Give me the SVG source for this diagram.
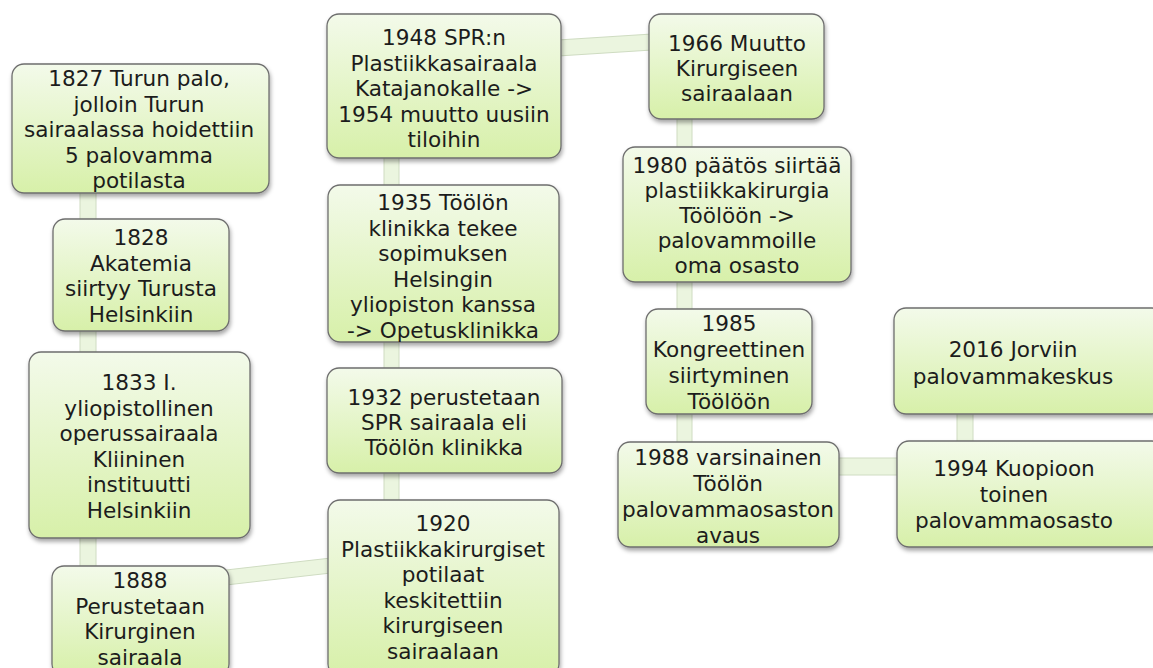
<svg xmlns="http://www.w3.org/2000/svg" width="1153" height="668" viewBox="0 0 1153 668">
<defs>
<linearGradient id="g" x1="0" y1="0" x2="0" y2="1">
<stop offset="0" stop-color="#f3faea"/>
<stop offset="1" stop-color="#d7f0a9"/>
</linearGradient>
<filter id="sh" x="-10%" y="-10%" width="120%" height="130%">
<feDropShadow dx="1" dy="3" stdDeviation="2" flood-color="#000" flood-opacity="0.35"/>
</filter>
<style>
.box{fill:url(#g);stroke:#6e6e6e;stroke-width:1.3;filter:url(#sh)}
.t{font-family:"DejaVu Sans",Verdana,sans-serif;font-size:21.6px;fill:#1c1c1c;text-anchor:middle}
.c{fill:#ebf5df;stroke:#cfdcc2;stroke-width:1}
</style>
</defs>
<rect width="1153" height="668" fill="#ffffff"/>
<g id="connectors">
<rect class="c" x="80" y="190" width="16" height="32"/>
<rect class="c" x="80" y="328" width="16" height="27"/>
<rect class="c" x="80" y="535" width="16" height="34"/>
<polygon class="c" points="226,570 331,558 331,573 226,585"/>
<rect class="c" x="384" y="470" width="15" height="33"/>
<rect class="c" x="384" y="339" width="15" height="32"/>
<rect class="c" x="384" y="155" width="15" height="33"/>
<polygon class="c" points="558,40 652,34 652,50 558,56"/>
<rect class="c" x="677" y="116" width="15" height="34"/>
<rect class="c" x="677" y="279" width="15" height="33"/>
<rect class="c" x="677" y="411" width="15" height="34"/>
<rect class="c" x="836" y="458" width="64" height="17"/>
<rect class="c" x="957" y="411" width="16" height="33"/>
</g>
<g id="n1827">
<rect class="box" x="12" y="64" width="257" height="129" rx="12"/>
<text class="t" x="139" y="86">1827 Turun palo,</text>
<text class="t" x="139" y="111.5">jolloin Turun</text>
<text class="t" x="139" y="137">sairaalassa hoidettiin</text>
<text class="t" x="139" y="162.5">5 palovamma</text>
<text class="t" x="139" y="188">potilasta</text>
</g>
<g id="n1828">
<rect class="box" x="53" y="219" width="176" height="112" rx="12"/>
<text class="t" x="141" y="245">1828</text>
<text class="t" x="141" y="270.5">Akatemia</text>
<text class="t" x="141" y="296">siirtyy Turusta</text>
<text class="t" x="141" y="321.5">Helsinkiin</text>
</g>
<g id="n1833">
<rect class="box" x="29" y="352" width="221" height="186" rx="12"/>
<text class="t" x="139" y="390">1833 I.</text>
<text class="t" x="139" y="415.5">yliopistollinen</text>
<text class="t" x="139" y="441">operussairaala</text>
<text class="t" x="139" y="466.5">Kliininen</text>
<text class="t" x="139" y="492">instituutti</text>
<text class="t" x="139" y="517.5">Helsinkiin</text>
</g>
<g id="n1888">
<rect class="box" x="52" y="566" width="177" height="110" rx="12"/>
<text class="t" x="140" y="588">1888</text>
<text class="t" x="140" y="613.5">Perustetaan</text>
<text class="t" x="140" y="639">Kirurginen</text>
<text class="t" x="140" y="664.5">sairaala</text>
</g>
<g id="n1920">
<rect class="box" x="328" y="500" width="231" height="176" rx="12"/>
<text class="t" x="443" y="531">1920</text>
<text class="t" x="443" y="556.5">Plastiikkakirurgiset</text>
<text class="t" x="443" y="582">potilaat</text>
<text class="t" x="443" y="607.5">keskitettiin</text>
<text class="t" x="443" y="633">kirurgiseen</text>
<text class="t" x="443" y="658.5">sairaalaan</text>
</g>
<g id="n1932">
<rect class="box" x="327" y="368" width="235" height="105" rx="12"/>
<text class="t" x="444" y="405">1932 perustetaan</text>
<text class="t" x="444" y="430">SPR sairaala eli</text>
<text class="t" x="444" y="455">Töölön klinikka</text>
</g>
<g id="n1935">
<rect class="box" x="328" y="185" width="231" height="157" rx="12"/>
<text class="t" x="443" y="210">1935 Töölön</text>
<text class="t" x="443" y="235.5">klinikka tekee</text>
<text class="t" x="443" y="261">sopimuksen</text>
<text class="t" x="443" y="286.5">Helsingin</text>
<text class="t" x="443" y="312">yliopiston kanssa</text>
<text class="t" x="443" y="337.5">-&gt; Opetusklinikka</text>
</g>
<g id="n1948">
<rect class="box" x="327" y="14" width="234" height="144" rx="12"/>
<text class="t" x="444" y="45">1948 SPR:n</text>
<text class="t" x="444" y="70.5">Plastiikkasairaala</text>
<text class="t" x="444" y="96">Katajanokalle -&gt;</text>
<text class="t" x="444" y="121.5">1954 muutto uusiin</text>
<text class="t" x="444" y="147">tiloihin</text>
</g>
<g id="n1966">
<rect class="box" x="649" y="14" width="175" height="105" rx="12"/>
<text class="t" x="737" y="51">1966 Muutto</text>
<text class="t" x="737" y="76">Kirurgiseen</text>
<text class="t" x="737" y="101">sairaalaan</text>
</g>
<g id="n1980">
<rect class="box" x="623" y="147" width="228" height="135" rx="12"/>
<text class="t" x="737" y="173">1980 päätös siirtää</text>
<text class="t" x="737" y="198">plastiikkakirurgia</text>
<text class="t" x="737" y="223">Töölöön -&gt;</text>
<text class="t" x="737" y="248">palovammoille</text>
<text class="t" x="737" y="273">oma osasto</text>
</g>
<g id="n1985">
<rect class="box" x="646" y="309" width="166" height="105" rx="12"/>
<text class="t" x="729" y="331">1985</text>
<text class="t" x="729" y="357">Kongreettinen</text>
<text class="t" x="729" y="383">siirtyminen</text>
<text class="t" x="729" y="409">Töölöön</text>
</g>
<g id="n1988">
<rect class="box" x="618" y="442" width="221" height="105" rx="12"/>
<text class="t" x="728" y="465">1988 varsinainen</text>
<text class="t" x="728" y="491">Töölön</text>
<text class="t" x="728" y="517">palovammaosaston</text>
<text class="t" x="728" y="543">avaus</text>
</g>
<g id="n2016">
<rect class="box" x="894" y="308" width="270" height="106" rx="12"/>
<text class="t" x="1013" y="357">2016 Jorviin</text>
<text class="t" x="1013" y="384">palovammakeskus</text>
</g>
<g id="n1994">
<rect class="box" x="897" y="441" width="267" height="106" rx="12"/>
<text class="t" x="1014" y="476">1994 Kuopioon</text>
<text class="t" x="1014" y="502">toinen</text>
<text class="t" x="1014" y="528">palovammaosasto</text>
</g>
</svg>
